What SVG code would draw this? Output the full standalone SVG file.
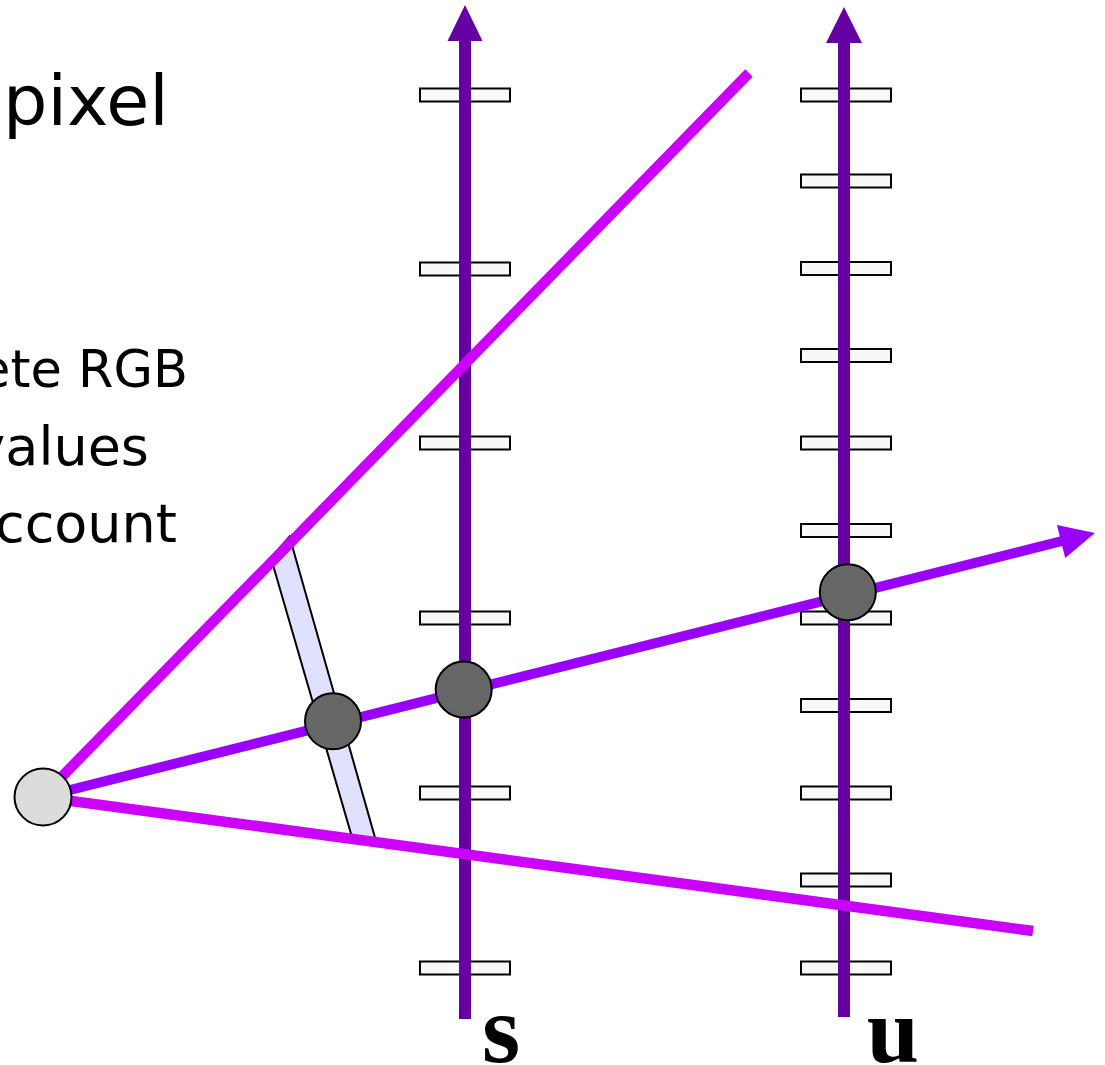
<svg xmlns="http://www.w3.org/2000/svg" width="1105" height="1065" viewBox="0 0 1105 1065">
<style>
.txt{font-family:"DejaVu Sans","Verdana",sans-serif;fill:#000}
.lbl{font-family:"Liberation Serif","Times New Roman",serif;font-weight:bold;fill:#000}
.tick{fill:#f8f8f8;stroke:#000;stroke-width:2}
.axis{stroke:#6600a3;stroke-width:12;fill:none}
.mag{stroke:#cc00ff;stroke-width:10.5;fill:none}
.ray{stroke:#9900ff;stroke-width:10;fill:none}
.pt{fill:#666;stroke:#000;stroke-width:2}
</style>
<rect width="1105" height="1065" fill="#fff"/>
<g id="texts">
<text class="txt" x="3" y="125" font-size="70">pixel</text>
<text class="txt" x="188" y="387" font-size="51" text-anchor="end">ete RGB</text>
<text class="txt" x="149" y="465" font-size="54" text-anchor="end">values</text>
<text class="txt" x="177" y="542" font-size="54" text-anchor="end">ccount</text>
</g>
<g id="axis-s">
<rect class="tick" x="420" y="88.5" width="90" height="13"/>
<rect class="tick" x="420" y="262.5" width="90" height="13"/>
<rect class="tick" x="420" y="436.5" width="90" height="13"/>
<rect class="tick" x="420" y="611.5" width="90" height="13"/>
<rect class="tick" x="420" y="786.5" width="90" height="13"/>
<rect class="tick" x="420" y="961.5" width="90" height="13"/>
<line class="axis" x1="465" y1="1019" x2="465" y2="38"/>
<polygon points="465,5 482.5,41 447.5,41" fill="#6600a3"/>
<text class="lbl" x="501" y="1062" font-size="98" text-anchor="middle">s</text>
</g>
<g id="axis-u">
<rect class="tick" x="801" y="88.5" width="90" height="13"/>
<rect class="tick" x="801" y="174.5" width="90" height="13"/>
<rect class="tick" x="801" y="262" width="90" height="13"/>
<rect class="tick" x="801" y="349" width="90" height="13"/>
<rect class="tick" x="801" y="436.5" width="90" height="13"/>
<rect class="tick" x="801" y="524" width="90" height="13"/>
<rect class="tick" x="801" y="611.5" width="90" height="13"/>
<rect class="tick" x="801" y="699" width="90" height="13"/>
<rect class="tick" x="801" y="786.5" width="90" height="13"/>
<rect class="tick" x="801" y="873.5" width="90" height="13"/>
<rect class="tick" x="801" y="961.5" width="90" height="13"/>
<line class="axis" x1="844" y1="1017" x2="844" y2="40"/>
<polygon points="844,7 862,43 826,43" fill="#6600a3"/>
<text class="lbl" x="893" y="1062" font-size="94" text-anchor="middle">u</text>
</g>
<g id="band">
<polygon points="289.5,536.5 375.7,840 352.5,839 271,558" fill="#e0e0ff" stroke="#000" stroke-width="2" stroke-linejoin="miter"/>
</g>
<g id="connectors">
<line class="mag" x1="42" y1="797" x2="749" y2="73"/>
<line class="mag" x1="42" y1="797" x2="1033" y2="931"/>
<line class="ray" x1="42" y1="797" x2="1062" y2="541"/>
<polygon points="1095,533 1065.2,558 1056.9,525" fill="#9900ff"/>
</g>
<g id="eye"><circle cx="43" cy="797" r="28.5" fill="#dcdcdc" stroke="#000" stroke-width="2"/></g>
<g id="p1"><circle class="pt" cx="333" cy="721.3" r="28"/></g>
<g id="p2"><circle class="pt" cx="463.7" cy="689.5" r="28"/></g>
<g id="p3"><circle class="pt" cx="847.8" cy="592.2" r="28"/></g>
</svg>
